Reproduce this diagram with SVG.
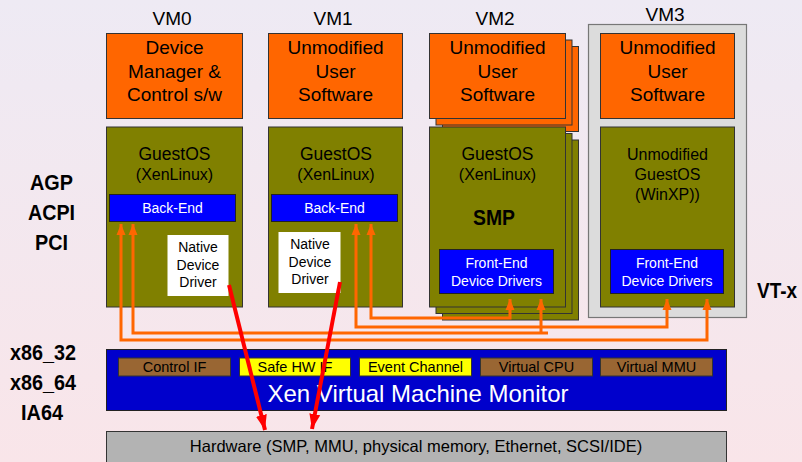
<svg xmlns="http://www.w3.org/2000/svg" width="802" height="462" viewBox="0 0 802 462">
<defs>
<linearGradient id="bg" x1="0" y1="0" x2="0" y2="1">
<stop offset="0" stop-color="#EEEAF4"/>
<stop offset="1" stop-color="#F9E5E9"/>
</linearGradient>
<marker id="oa" markerUnits="userSpaceOnUse" markerWidth="12" markerHeight="12" viewBox="0 0 12 12" refX="11" refY="6" orient="auto-start-reverse">
<path d="M0,1.5 L11,6 L0,10.5 Z" fill="#FF6600"/>
</marker>
<marker id="ra" markerUnits="userSpaceOnUse" markerWidth="16" markerHeight="16" viewBox="0 0 16 16" refX="15" refY="8" orient="auto">
<path d="M0,2.5 L15,8 L0,13.5 Z" fill="#FF0000"/>
</marker>
</defs>
<style>
text{font-family:"Liberation Sans",Arial,sans-serif;text-anchor:middle}
.orange{fill:#FF6600;stroke:#333;stroke-width:1}
.olive{fill:#808000;stroke:#333;stroke-width:1}
.blue{fill:#0000FF;stroke:#222;stroke-width:1}
.white{fill:#FFFFFF;stroke:none}
.vm{font-size:19px;fill:#000}
.t19{font-size:19px;fill:#000}
.t17{font-size:17.5px;fill:#000}
.t16{font-size:16px;fill:#000}
.t14{font-size:14px;fill:#000}
.t145{font-size:14.5px;fill:#000}
.tw{font-size:14px;fill:#FFFFFF}
.bold{font-weight:bold;font-size:22px;fill:#000}
.oc{fill:none;stroke:#FF6600;stroke-width:3}
.rc{fill:none;stroke:#FF0000;stroke-width:4}
.sub{stroke:#333;stroke-width:1}
</style>
<rect x="0" y="0" width="802" height="462" fill="url(#bg)"/>

<g id="side-labels">
<text class="bold" x="51.5" y="190" textLength="43" lengthAdjust="spacingAndGlyphs">AGP</text>
<text class="bold" x="51.5" y="220" textLength="47" lengthAdjust="spacingAndGlyphs">ACPI</text>
<text class="bold" x="51.5" y="250" textLength="33" lengthAdjust="spacingAndGlyphs">PCI</text>
<text class="bold" x="43" y="360" textLength="66" lengthAdjust="spacingAndGlyphs">x86_32</text>
<text class="bold" x="43" y="390" textLength="66" lengthAdjust="spacingAndGlyphs">x86_64</text>
<text class="bold" x="42" y="420" textLength="42" lengthAdjust="spacingAndGlyphs">IA64</text>
<text class="bold" x="777" y="298" textLength="40" lengthAdjust="spacingAndGlyphs">VT-x</text>
</g>

<g id="vm0">
<text class="vm" x="172" y="25">VM0</text>
<rect class="orange" x="106.5" y="33.5" width="136" height="85"/>
<text class="t19" x="174.5" y="54">Device</text>
<text class="t19" x="174.5" y="78">Manager &amp;</text>
<text class="t19" x="174.5" y="101">Control s/w</text>
<rect class="olive" x="106.5" y="127" width="136" height="180"/>
<text class="t17" x="174.5" y="160">GuestOS</text>
<text class="t16" x="174.5" y="180">(XenLinux)</text>
<rect class="blue" x="109.5" y="194.5" width="126" height="27"/>
<text class="tw" x="172.5" y="213">Back-End</text>
<rect class="white" x="167.5" y="235" width="61" height="61"/>
<text class="t14" x="198" y="252">Native</text>
<text class="t14" x="198" y="270">Device</text>
<text class="t14" x="198" y="287">Driver</text>
</g>

<g id="vm1">
<text class="vm" x="333" y="25">VM1</text>
<rect class="orange" x="268.5" y="33.5" width="134" height="85"/>
<text class="t19" x="335.5" y="54">Unmodified</text>
<text class="t19" x="335.5" y="78">User</text>
<text class="t19" x="335.5" y="101">Software</text>
<rect class="olive" x="268.5" y="127" width="134" height="180"/>
<text class="t17" x="336" y="160">GuestOS</text>
<text class="t16" x="336" y="180">(XenLinux)</text>
<rect class="blue" x="271.5" y="194.5" width="126" height="27"/>
<text class="tw" x="334.5" y="213">Back-End</text>
<rect class="white" x="278.5" y="232" width="62" height="61"/>
<text class="t14" x="310" y="249">Native</text>
<text class="t14" x="310" y="267">Device</text>
<text class="t14" x="310" y="284">Driver</text>
</g>

<g id="vm2">
<text class="vm" x="495" y="25">VM2</text>
<rect class="orange" x="442.5" y="46.5" width="136" height="85"/>
<rect class="orange" x="436" y="40" width="136" height="85"/>
<rect class="orange" x="429.5" y="33.5" width="136" height="85"/>
<text class="t19" x="497.5" y="54">Unmodified</text>
<text class="t19" x="497.5" y="78">User</text>
<text class="t19" x="497.5" y="101">Software</text>
<rect class="olive" x="442.5" y="140" width="136" height="180"/>
<rect class="olive" x="436" y="133.5" width="136" height="180"/>
<rect class="olive" x="429.5" y="127" width="136" height="180"/>
<text class="t17" x="497.5" y="160">GuestOS</text>
<text class="t16" x="497.5" y="180">(XenLinux)</text>
<text class="bold" x="494" y="225" textLength="42" lengthAdjust="spacingAndGlyphs">SMP</text>
<rect class="blue" x="439.5" y="249.5" width="114" height="44"/>
<text class="tw" x="496.5" y="268">Front-End</text>
<text class="tw" x="496.5" y="286">Device Drivers</text>
</g>

<g id="vm3">
<rect x="588.5" y="24.5" width="158" height="293" fill="#DCDCDC" stroke="#777" stroke-width="1.2"/>
<text class="vm" x="665" y="21">VM3</text>
<rect class="orange" x="600.5" y="33.5" width="134" height="85"/>
<text class="t19" x="667.5" y="54">Unmodified</text>
<text class="t19" x="667.5" y="78">User</text>
<text class="t19" x="667.5" y="101">Software</text>
<rect class="olive" x="600.5" y="127" width="134" height="180"/>
<text class="t16" x="667.5" y="160">Unmodified</text>
<text class="t16" x="667.5" y="180">GuestOS</text>
<text class="t16" x="667.5" y="200">(WinXP))</text>
<rect class="blue" x="610.5" y="249.5" width="113" height="44"/>
<text class="tw" x="667" y="268">Front-End</text>
<text class="tw" x="667" y="286">Device Drivers</text>
</g>

<g id="xen-vmm">
<rect x="106.5" y="349.5" width="620" height="61" fill="#0000CC" stroke="#222" stroke-width="1"/>
<rect class="sub" x="118.5" y="358" width="112" height="18" fill="#996633"/>
<text class="t145" x="174.5" y="372">Control IF</text>
<rect class="sub" x="239.5" y="358" width="111" height="18" fill="#FFFF00"/>
<text class="t145" x="295" y="372">Safe HW IF</text>
<rect class="sub" x="359.5" y="358" width="112" height="18" fill="#FFFF00"/>
<text class="t145" x="415.5" y="372">Event Channel</text>
<rect class="sub" x="480.5" y="358" width="112" height="18" fill="#996633"/>
<text class="t145" x="536.5" y="372">Virtual CPU</text>
<rect class="sub" x="600.5" y="358" width="112" height="18" fill="#996633"/>
<text class="t145" x="656.5" y="372">Virtual MMU</text>
<text x="418" y="402" style="font-size:24px;fill:#FFFFFF">Xen Virtual Machine Monitor</text>
</g>

<g id="hardware">
<rect x="106.5" y="431.5" width="620" height="40" fill="#B3B3B3" stroke="#333" stroke-width="1"/>
<text x="416" y="452" style="font-size:16.5px;fill:#000">Hardware (SMP, MMU, physical memory, Ethernet, SCSI/IDE)</text>
</g>

<g id="connectors">
<path class="oc" d="M121,224 V340 H707 V299" marker-start="url(#oa)" marker-end="url(#oa)"/>
<path class="oc" d="M133,224 V333 H548 M541,333 V299" marker-start="url(#oa)" marker-end="url(#oa)"/>
<path class="oc" d="M356,224 V327 H667 V299" marker-start="url(#oa)" marker-end="url(#oa)"/>
<path class="oc" d="M371,224 V318 H510 V299" marker-start="url(#oa)" marker-end="url(#oa)"/>
<path class="rc" d="M229,285 L265,430" marker-end="url(#ra)"/>
<path class="rc" d="M340,282 L312,429" marker-end="url(#ra)"/>
</g>
</svg>
